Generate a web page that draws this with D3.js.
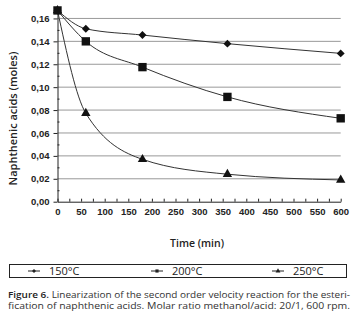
<!DOCTYPE html>
<html>
<head>
<meta charset="utf-8">
<script src="https://cdn.jsdelivr.net/npm/d3@7"></script>
<style>
  body { margin: 0; background: #fff; }
  svg { display: block; font-family: "Open Sans", "DejaVu Sans", sans-serif; }
</style>
</head>
<body>
<svg id="chart" width="356" height="325"></svg>
<script>
// values
const times = [0, 60, 180, 360, 600];
const t150 = [0.167, 0.151, 0.1455, 0.138, 0.1295];
const t200 = [0.167, 0.140, 0.1175, 0.0915, 0.0728];
const t250 = [0.167, 0.0772, 0.037, 0.024, 0.019];
const seriesNames = ["150°C", "200°C", "250°C"];
const yTicks = [0, 0.02, 0.04, 0.06, 0.08, 0.10, 0.12, 0.14, 0.16];
const xTicks = [0, 50, 100, 150, 200, 250, 300, 350, 400, 450, 500, 550, 600];

const width = 356;
const marginLeft = 57.5;
const marginRight = 15.3;
const plotTop = 7;
const plotBottom = 201.7;

const svg = d3.select("#chart");
const ink = "#222";

const x = d3.scaleLinear().domain([0, 600]).range([marginLeft, width - marginRight]);
const y = d3.scaleLinear().domain([0, 0.17]).range([plotBottom, plotTop]);

// gridlines
svg.append("g")
  .selectAll("line")
  .data(yTicks.slice(1))
  .join("line")
  .attr("x1", x(0))
  .attr("x2", x(600))
  .attr("y1", (d) => y(d))
  .attr("y2", (d) => y(d))
  .attr("stroke", "#999")
  .attr("stroke-width", 1);

// y axis
const yAxis = svg.append("g")
  .attr("transform", `translate(${marginLeft},0)`)
  .call(d3.axisLeft(y).tickValues(yTicks).tickSizeInner(4).tickSizeOuter(0)
    .tickPadding(4).tickFormat((d) => d3.format(".2f")(d).replace(".", ",")));
yAxis.append("g")
  .call(d3.axisLeft(y).tickValues(d3.range(0.01, 0.17, 0.02)).tickSize(-2).tickFormat(""))
  .select(".domain").remove();

// x axis
const xAxis = svg.append("g")
  .attr("transform", `translate(0,${plotBottom})`)
  .call(d3.axisBottom(x).tickValues(xTicks).tickSizeInner(-3).tickSizeOuter(0).tickPadding(7));
xAxis.append("g")
  .call(d3.axisBottom(x).tickValues(d3.range(25, 600, 50)).tickSizeInner(-3).tickFormat(""))
  .select(".domain").remove();

svg.selectAll(".domain, .tick line").attr("stroke", ink);
svg.selectAll(".tick text")
  .attr("fill", ink)
  .style("font-size", "9.5px")
  .style("font-weight", "600");

svg.append("text")
  .attr("transform", "rotate(-90)")
  .attr("x", -118.5)
  .attr("y", 17)
  .attr("text-anchor", "middle")
  .attr("fill", ink)
  .style("font-size", "11px")
  .style("font-weight", "600")
  .text("Naphthenic acids (moles)");

svg.append("text")
  .attr("x", 197)
  .attr("y", 247)
  .attr("text-anchor", "middle")
  .attr("fill", ink)
  .style("font-size", "10.5px")
  .style("font-weight", "600")
  .text("Time (min)");

// curves
const series = [t150, t200, t250].map((vals, i) => ({
  name: seriesNames[i],
  points: times.map((t, j) => ({ t: t, v: vals[j] })),
}));
const line = d3.line().x((d) => x(d.t)).y((d) => y(d.v)).curve(d3.curveMonotoneX);

svg.append("g")
  .selectAll("path")
  .data(series)
  .join("path")
  .attr("fill", "none")
  .attr("stroke", "#333")
  .attr("stroke-width", 1)
  .attr("d", (d) => line(d.points));

const symbols = [
  d3.symbol().type(d3.symbolDiamond2).size(40),
  d3.symbol().type(d3.symbolSquare).size(70),
  d3.symbol().type(d3.symbolTriangle).size(38),
];

// draw in order 150, 250, 200 so the squares sit on top at t=0
[0, 2, 1].forEach((i) => {
  svg.append("g")
    .selectAll("path")
    .data(series[i].points)
    .join("path")
    .attr("transform", (d) => `translate(${x(d.t)},${y(d.v)})`)
    .attr("d", symbols[i])
    .attr("fill", "#111");
});

// legend
svg.append("rect")
  .attr("x", 9.5)
  .attr("y", 264.5)
  .attr("width", 337)
  .attr("height", 13)
  .attr("fill", "none")
  .attr("stroke", ink)
  .attr("stroke-width", 1);

const legendX = [28, 151, 272];
const legendSym = [
  d3.symbol().type(d3.symbolDiamond2).size(10),
  d3.symbol().type(d3.symbolSquare).size(10),
  d3.symbol().type(d3.symbolTriangle).size(10),
];
const legend = svg.append("g")
  .selectAll("g")
  .data(seriesNames)
  .join("g")
  .attr("transform", (d, i) => `translate(${legendX[i]},271)`);
legend.append("line")
  .attr("x1", 0)
  .attr("x2", 12)
  .attr("stroke", ink)
  .attr("stroke-width", 1);
legend.append("path")
  .attr("transform", "translate(6,0)")
  .attr("d", (d, i) => legendSym[i]())
  .attr("fill", ink);
legend.append("text")
  .attr("x", 21)
  .attr("y", 3.8)
  .attr("fill", ink)
  .style("font-size", "11px")
  .text((d) => d);

// caption
const caption = svg.append("text")
  .attr("fill", "#333")
  .style("font-size", "8.5px");
caption.append("tspan")
  .attr("x", 8)
  .attr("y", 298)
  .attr("textLength", 342)
  .attr("lengthAdjust", "spacingAndGlyphs")
  .html('<tspan font-weight="600" fill="#222">Figure 6.</tspan> Linearization of the second order velocity reaction for the esteri-');
caption.append("tspan")
  .attr("x", 8)
  .attr("y", 309)
  .attr("textLength", 342)
  .attr("lengthAdjust", "spacingAndGlyphs")
  .text("fication of naphthenic acids. Molar ratio methanol/acid: 20/1, 600 rpm.");
</script>
</body>
</html>
